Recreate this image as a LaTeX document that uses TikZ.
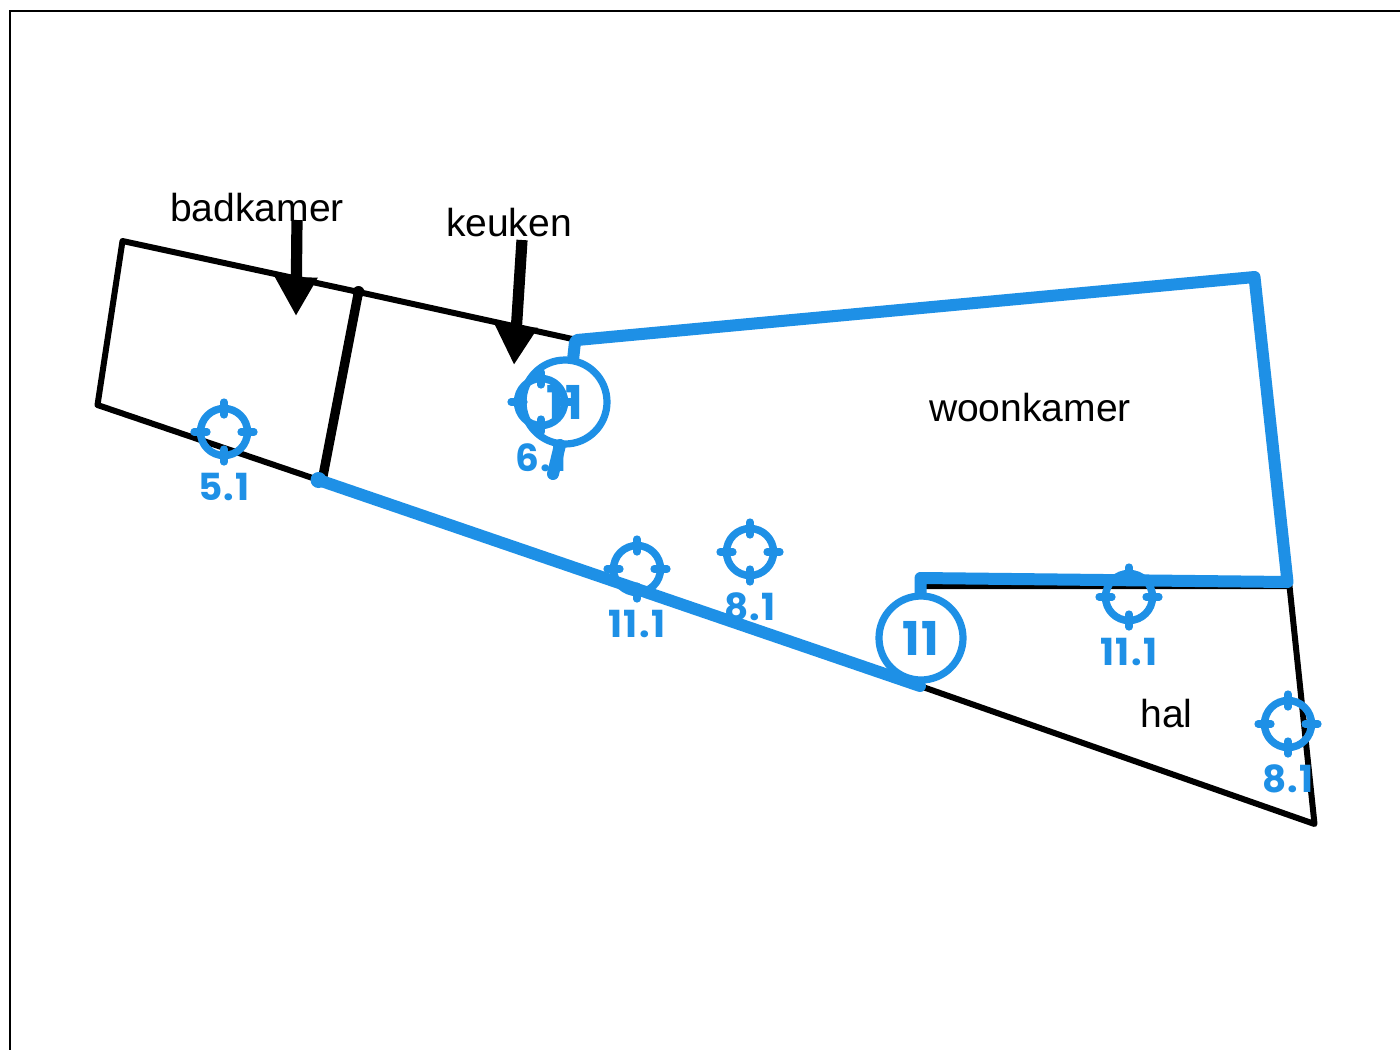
\documentclass[tikz,border=0pt]{standalone}
\usepackage{fontspec}
\setmainfont{Liberation Sans}
\newfontfamily\bluefont{Poppins}[LetterSpace=4]
\usetikzlibrary{arrows.meta}
\definecolor{planblue}{HTML}{1E90E6}
\newcommand{\plantarget}[3]{%
  \coordinate (#1) at (#2);
  \draw[targetring] (#1) circle (23.5);
  \foreach \a in {0,90,180,270}{\draw[targettick] (#1) ++(\a:17) -- ++(\a:13);}
  \node[targetlabel] (#1l) at ([yshift=-41.5pt]#1) {#3};}
\tikzset{
  x=0.75pt,y=-0.75pt,
  wallthin/.style={draw=black,line width=4.5pt,line cap=round,line join=round},
  walldiv/.style={draw=black,line width=7pt,line cap=round},
  bluewall/.style={draw=planblue,line width=9pt,line cap=round,line join=round},
  targetring/.style={draw=planblue,line width=5.6pt},
  targettick/.style={draw=planblue,line width=5.4pt,line cap=round},
  targetlabel/.style={text=planblue,font=\bluefont\bfseries\fontsize{28}{28}\selectfont,inner sep=0pt,anchor=center},
  bigcircle/.style={draw=planblue,line width=5.4pt,fill=white,circle,minimum size=63pt,inner sep=0pt,text=planblue,font=\bluefont\bfseries\fontsize{35}{35}\selectfont},
  roomlabel/.style={text=black,font=\fontsize{29.3}{29.3}\selectfont,inner sep=0pt,anchor=center},
  pointer/.style={draw=black,line width=8.4pt,-{Triangle[length=29pt,width=30pt]}},
}
\begin{document}
\begin{tikzpicture}
\useasboundingbox (0,0) rectangle (1400,1050);
\fill[white] (0,0) rectangle (1400,1050);
\draw[black,line width=2.2pt] (10,1050) -- (10,11) -- (1400,11);
% coordinates
\coordinate (p1) at (122.5,241);
\coordinate (p2) at (97.5,405);
\coordinate (p3) at (318.5,480);
\coordinate (p4) at (920,686);
\coordinate (p5) at (1314.5,824);
\coordinate (p6) at (1289.5,586);
\coordinate (p7) at (920,586);
\coordinate (p8) at (577,340);
\coordinate (p9) at (358.5,292);
\coordinate (p10) at (1254.5,277);
\coordinate (p11) at (1287.5,582);
\coordinate (p12) at (920.5,578);
\coordinate (p13) at (323,476);
% black walls
\draw[wallthin] (p8) -- (p9) -- (p1) -- (p2) -- (p3) -- (p4) -- (p5) -- (p6) -- (p7);
\draw[walldiv] (p9) -- (p13);
\fill[black] (p9) circle (6);
% room labels
\node[roomlabel] (bad) at (257,208) {badkamer};
\node[roomlabel] (keu) at (509,223) {keuken};
\node[roomlabel] (woon) at (1030,408) {woonkamer};
\node[roomlabel] (hal) at (1166.5,714) {hal};
% pointers
\coordinate (a1) at (297,220);
\coordinate (a2) at (296,316);
\coordinate (b1) at (522,240);
\coordinate (b2) at (514,365);
\draw[pointer] (a1) -- (a2);
\draw[pointer] (b1) -- (b2);
% blue walls
\draw[bluewall] (p3) -- (p4);
\draw[bluewall] (573,360) -- (575,342) -- (p8) -- (p10) -- (p11) -- (p12) -- (920.5,600);
\fill[planblue] (p3) circle (8);
% big circles
\node[bigcircle] (c1) at (921,638) {11};
\node[bigcircle] (c2) at (565,402) {11};
% targets
\plantarget{t1}{224,432}{5.1}
\plantarget{t2}{637,569}{11.1}
\plantarget{t3}{750,552}{8.1}
\plantarget{t4}{1129,597}{11.1}
\plantarget{t5}{1288,724}{8.1}
\plantarget{t6}{541,402}{6.1}
\coordinate (s1) at (560,445);
\coordinate (s2) at (553,474);
\draw[bluewall] (s1) -- (s2);
\end{tikzpicture}
\end{document}
